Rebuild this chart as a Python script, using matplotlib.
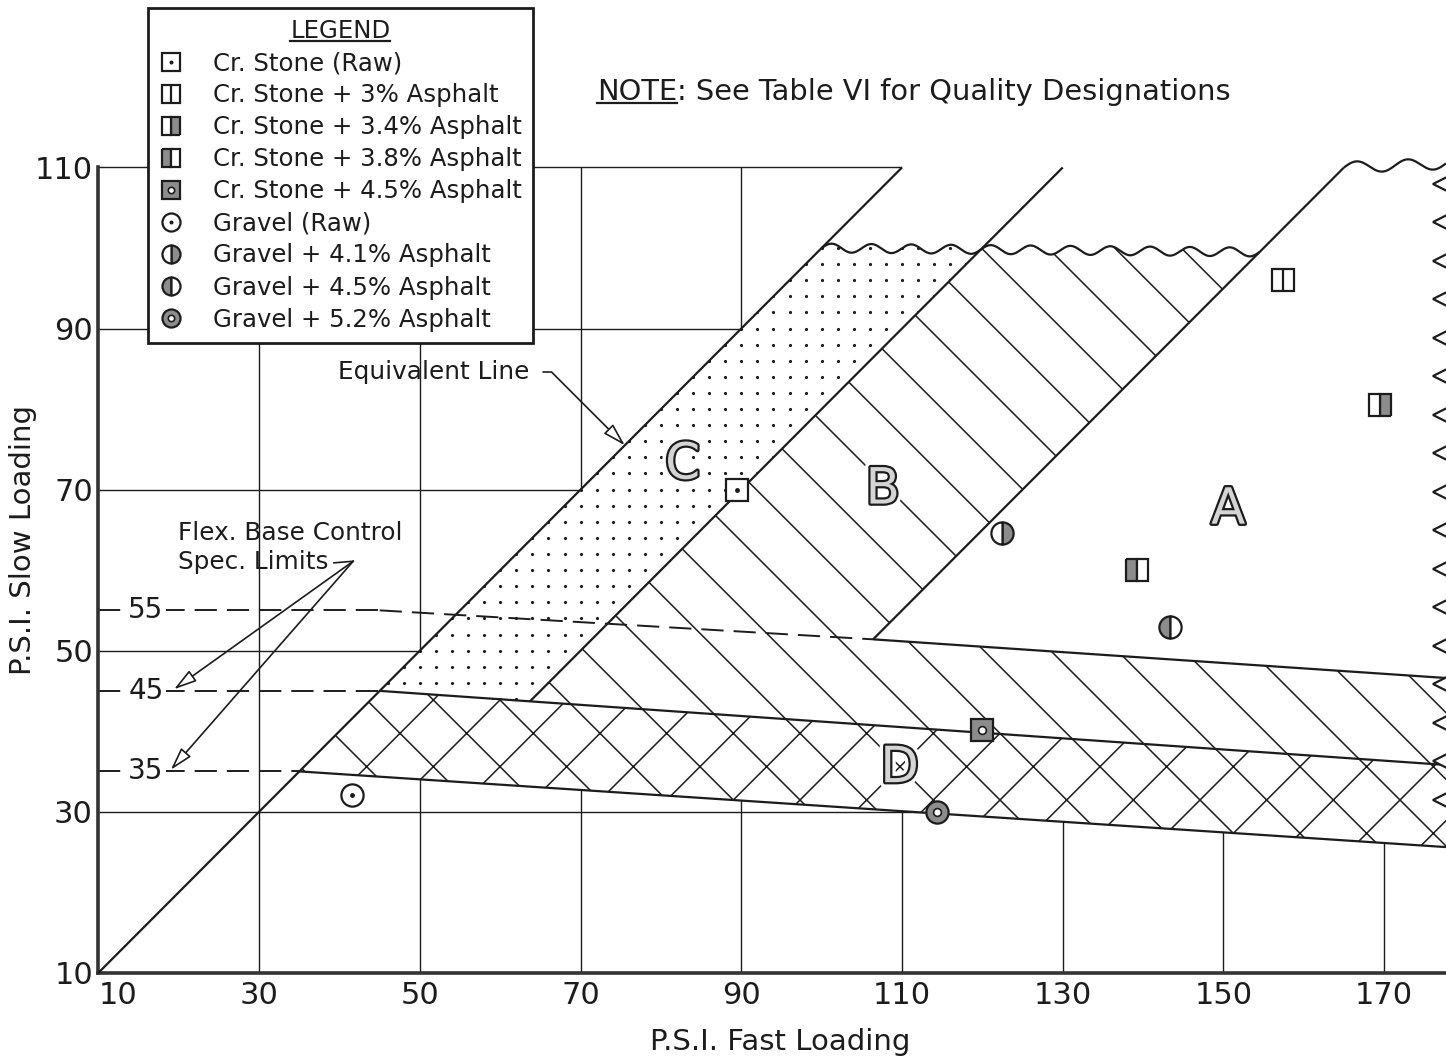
import matplotlib.pyplot as plt
import matplotlib.patheffects as pe
import numpy as np
from matplotlib.patches import Polygon
from matplotlib.lines import Line2D
from matplotlib.legend_handler import HandlerTuple
from matplotlib.transforms import IdentityTransform

INK = '#1c1c1c'
STIPPLE = '#8c8c8c'

plt.rcParams['font.family'] = ['DejaVu Sans']
plt.rcParams['hatch.linewidth'] = 0.55
plt.rcParams['hatch.color'] = INK
plt.rcParams['lines.scale_dashes'] = False

# axes
x_ticks = [10, 30, 50, 70, 90, 110, 130, 150, 170]
y_ticks = [10, 30, 50, 70, 90, 110]

# test results (fast loading psi, slow loading psi)
mix_names = ['Cr. Stone (Raw)', 'Cr. Stone + 3% Asphalt', 'Cr. Stone + 3.4% Asphalt',
             'Cr. Stone + 3.8% Asphalt', 'Cr. Stone + 4.5% Asphalt', 'Gravel (Raw)',
             'Gravel + 4.1% Asphalt', 'Gravel + 4.5% Asphalt', 'Gravel + 5.2% Asphalt']
mix_kinds = ['sq_dot', 'sq_split', 'sq_right', 'sq_left', 'sq_full',
             'ci_dot', 'ci_right', 'ci_left', 'ci_full']
fast_psi = [89.5, 157.4, 169.5, 139.2, 120.0, 41.5, 122.4, 143.4, 114.4]
slow_psi = [70.0, 96.0, 80.5, 60.0, 40.2, 32.1, 64.6, 52.9, 30.0]

# zone boundaries
equiv_x, equiv_y = [10, 110], [10, 110]
cb_x, cb_y = [63.7, 130], [43.7, 110]
ba_x, ba_y = [106.4, 165], [51.4, 110]
top_band_x, top_band_y = [45, 106.4, 177.7], [55.0, 51.4, 46.6]
mid_band_x, mid_band_y = [45, 63.7, 177.7], [45.0, 43.7, 35.8]
low_band_x, low_band_y = [35, 177.7], [35.0, 25.6]
break_cb_x, break_cb_y = [100, 154.5], [100, 99.5]
break_a_x, break_a_y = [165, 177.7], [110, 110.5]

spec_levels = [55, 45, 35]
spec_ends = [45, 45, 35]

zone_names = ['A', 'B', 'C', 'D']
zone_x = [150.6, 107.6, 82.7, 109.7]
zone_y = [67.5, 70.0, 73.1, 35.4]


def wavy(xs_end, ys_end, amp, period):
    n = max(1, round((xs_end[1] - xs_end[0]) / period))
    xs = np.linspace(xs_end[0], xs_end[1], 400)
    base = np.interp(xs, xs_end, ys_end)
    return xs, base + amp * np.sin(2 * np.pi * n * (xs - xs_end[0]) / (xs_end[1] - xs_end[0]))


def marker_parts(kind, ms):
    base = dict(linestyle='none', mec=INK, mew=0.8, ms=ms)
    shape = 's' if kind.startswith('sq') else 'o'
    if kind.endswith('dot'):
        return [dict(base, marker=shape, mfc='white'),
                dict(base, marker='o', ms=ms * 0.22, mfc=INK, mew=0)]
    if kind.endswith('split'):
        return [dict(base, marker=shape, mfc='white'), dict(base, marker='|')]
    if kind.endswith('right') or kind.endswith('left'):
        return [dict(base, marker=shape, fillstyle=kind.split('_')[1],
                     mfc=STIPPLE, mfcalt='white')]
    return [dict(base, marker=shape, mfc=STIPPLE),
            dict(base, marker='o', ms=ms * 0.35, mfc='white', mew=0.6)]


fig = plt.figure(figsize=(7.23, 5.29), dpi=200)
ax = fig.add_axes([98.5 / 1446, 85.3 / 1058, 1347.5 / 1446, 972.7 / 1058])
ax.set_xlim(10, 177.7)
ax.set_ylim(10, 130.8)

# grid, hidden under the zones
ax.vlines(x_ticks[1:], 10, 110, color=INK, lw=0.5, zorder=1)
ax.hlines(y_ticks[1:], 10, 177.7, color=INK, lw=0.5, zorder=1)
mask = Polygon([(low_band_x[0], low_band_y[0]), (111, 111), (177.7, 111),
                (low_band_x[1], low_band_y[1])], closed=True, fc='white', lw=0, zorder=1.5)
ax.add_patch(mask)

# zones
wx, wy = wavy(break_cb_x, break_cb_y, 0.55, 4.8)
xc = np.interp(100, cb_y, cb_x)
yc = np.interp(xc, cb_x, cb_y)
left = wx <= xc
c_verts = [(mid_band_x[0], mid_band_y[0])] + list(zip(wx[left], wy[left])) + \
    [(xc, yc), (cb_x[0], cb_y[0])]
b_verts = [(cb_x[0], cb_y[0]), (xc, yc)] + list(zip(wx[~left], wy[~left])) + \
    [(ba_x[0], ba_y[0]), (top_band_x[2], top_band_y[2]), (mid_band_x[2], mid_band_y[2])]
d_verts = [(low_band_x[0], low_band_y[0]), (mid_band_x[0], mid_band_y[0]),
           (mid_band_x[2], mid_band_y[2]), (low_band_x[1], low_band_y[1])]

c_patch = Polygon(c_verts, closed=True, fc='white', lw=0, zorder=2)
ax.add_patch(c_patch)
ax.add_patch(Polygon(b_verts, closed=True, fc='white', ec=INK, lw=0, hatch='\\', zorder=2))
ax.add_patch(Polygon(d_verts, closed=True, fc='white', ec=INK, lw=0, hatch='x', zorder=2))

gx, gy = np.meshgrid(np.arange(40, 126, 2.0), np.arange(40, 104, 2.0))
dots = ax.scatter(gx.ravel(), gy.ravel(), s=1.3, color=INK, linewidths=0, zorder=3)
dots.set_clip_path(c_patch)

# boundary lines
line_kw = dict(color=INK, lw=0.8, zorder=4, solid_capstyle='butt')
ax.plot(equiv_x, equiv_y, **line_kw)
ax.plot(cb_x, cb_y, **line_kw)
ax.plot(ba_x, ba_y, **line_kw)
ax.plot(top_band_x[1:], top_band_y[1:], **line_kw)
ax.plot(top_band_x[:2], top_band_y[:2], color=INK, lw=0.7, ls=(0, (8, 3.6)), zorder=4)
ax.plot(mid_band_x, mid_band_y, **line_kw)
ax.plot(low_band_x, low_band_y, **line_kw)
ax.plot(wx, wy, **line_kw)
ax.plot(*wavy(break_a_x, break_a_y, 0.7, 5.5), **line_kw)

edge_y = np.linspace(108, 31.5, 17)
ax.plot(np.full_like(edge_y, 177.1), edge_y, ls='none', marker='<', ms=6,
        mfc='white', mec=INK, mew=0.8, zorder=6)

# flex base spec limits
for lvl, end in zip(spec_levels, spec_ends):
    ax.plot([10, end], [lvl, lvl], color=INK, lw=0.7, ls=(0, (8, 3.6)), zorder=2)
    ax.text(15.9, lvl, str(lvl), ha='center', va='center', fontsize=10, color=INK,
            bbox=dict(fc='white', ec='none', pad=1.0), zorder=3)

ax.text(19.9, 62.8, 'Flex. Base Control\nSpec. Limits', fontsize=8.9, color=INK,
        va='center', ha='left', linespacing=1.25, zorder=3)
ax.plot([39.3, 41.7], [60.9, 61.1], color=INK, lw=0.6, zorder=3)
for tip in [(19.4, 45.2), (19.0, 35.2)]:
    ax.annotate('', xy=tip, xytext=(41.7, 61.1),
                arrowprops=dict(arrowstyle='-|>,head_length=0.7,head_width=0.2',
                                fc='white', ec=INK, lw=0.6, shrinkA=0, shrinkB=0,
                                mutation_scale=10), zorder=3)

ax.annotate('Equivalent Line', xy=(75.5, 75.5), xytext=(63.6, 84.6), fontsize=8.9,
            color=INK, ha='right', va='center', zorder=3,
            arrowprops=dict(arrowstyle='-|>,head_length=0.7,head_width=0.2',
                            connectionstyle='angle,angleA=0,angleB=-45,rad=0',
                            relpos=(1, 0.5), fc='white', ec=INK, lw=0.6,
                            shrinkA=3, shrinkB=0, mutation_scale=10))

# zone letters
for name, x, y in zip(zone_names, zone_x, zone_y):
    ax.text(x, y, name, fontsize=18, ha='center', va='center', color='#d4d4d4', zorder=5,
            path_effects=[pe.Stroke(linewidth=4, foreground='white'),
                          pe.Stroke(linewidth=1.6, foreground=INK), pe.Normal()])

# data points
for kind, x, y in zip(mix_kinds, fast_psi, slow_psi):
    for p in marker_parts(kind, 8):
        ax.plot([x], [y], zorder=6, **p)

# note
note = ax.text(72.0, 118.4, 'NOTE', fontsize=10.4, va='baseline', ha='left', color=INK)
ax.annotate(': See Table VI for Quality Designations', xy=(1, 0), xycoords=note,
            va='bottom', ha='left', fontsize=10.4, color=INK)

# axes styling
for side in ['top', 'right']:
    ax.spines[side].set_visible(False)
ax.spines['left'].set_bounds(10, 110)
for side in ['left', 'bottom']:
    ax.spines[side].set_linewidth(1.3)
    ax.spines[side].set_color('#333333')
ax.set_xticks(x_ticks)
ax.set_yticks(y_ticks)
ax.tick_params(length=0, labelsize=11, colors=INK)
ax.tick_params(axis='x', pad=3)
ax.tick_params(axis='y', pad=2)
ax.get_xticklabels()[0].set_horizontalalignment('left')
ax.set_xlabel('P.S.I. Fast Loading', fontsize=10.5, color=INK)
ax.set_ylabel('P.S.I. Slow Loading', fontsize=10.5, color=INK)
ax.xaxis.set_label_coords(0.506, -0.057)
ax.yaxis.set_label_coords(-0.046, 0.445)

# legend
handles = [tuple(Line2D([], [], **p) for p in marker_parts(k, 6.5)) for k in mix_kinds]
leg = ax.legend(handles, mix_names, handler_map={tuple: HandlerTuple(ndivide=1, pad=0)},
                loc='upper left', bbox_to_anchor=(148 / 1446, 1 - 8 / 1058),
                bbox_transform=fig.transFigure, title='LEGEND', fontsize=8.8,
                title_fontsize=8.8, numpoints=1, frameon=True, fancybox=False,
                framealpha=1, edgecolor=INK, borderpad=0.45, labelspacing=0.33,
                handlelength=1.0, handletextpad=1.2, borderaxespad=0)
leg.get_frame().set_linewidth(1.0)
for t in leg.get_texts():
    t.set_color(INK)
leg.get_title().set_color(INK)

fig.canvas.draw()


def underline(txt, gap=2.5):
    bb = txt.get_window_extent()
    fig.add_artist(Line2D([bb.x0, bb.x1], [bb.y0 + gap, bb.y0 + gap],
                          transform=IdentityTransform(), color=INK, lw=0.8))


underline(leg.get_title())
underline(note)

fig.savefig('out.png', dpi=200)
